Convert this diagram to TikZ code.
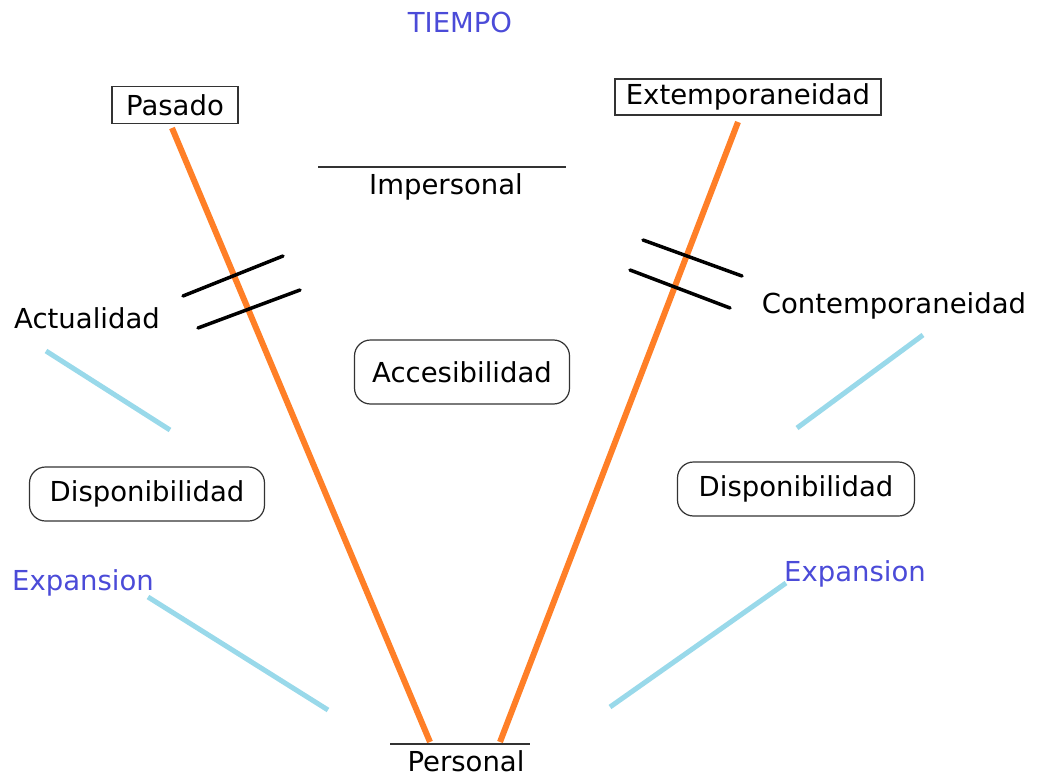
\documentclass[tikz,border=0pt]{standalone}
\usepackage{fontspec}
\setmainfont{DejaVu Sans}
\definecolor{lineorange}{HTML}{FF7F27}
\definecolor{lightblue}{HTML}{99D9EA}
\definecolor{labelblue}{HTML}{4B4BD8}
\begin{document}
\begin{tikzpicture}[x=1pt,y=-1pt,
  lbl/.style={font=\fontsize{27.5}{30}\selectfont, inner sep=0pt},
  bluelbl/.style={lbl, text=labelblue},
  sqbox/.style={lbl, draw=black!80, line width=1.5pt},
  rbox/.style={lbl, draw=black!80, line width=1.2pt, rounded corners=16pt},
  orangeline/.style={draw=lineorange, line width=6pt},
  blueline/.style={draw=lightblue, line width=5pt},
  tick/.style={draw=black, line width=3.5pt, line cap=round},
  rule/.style={draw=black!80, line width=1.2pt}]
\useasboundingbox (0,0) rectangle (1039,776);

\node[bluelbl] (tiempo) at (460,22) {TIEMPO};
\node[sqbox, minimum width=126pt, minimum height=37pt] (pasado) at (175,105) {Pasado};
\node[sqbox, minimum width=266pt, minimum height=36pt] (extemp) at (748,97) {Extemporaneidad};
\node[lbl] (impersonal) at (446,187) {Impersonal};
\node[lbl] (actualidad) at (87,318) {Actualidad};
\node[lbl] (contemp) at (894,306) {Contemporaneidad};
\node[rbox, minimum width=215pt, minimum height=64pt] (acces) at (462,372) {Accesibilidad};
\node[rbox, minimum width=235pt, minimum height=54pt] (displ) at (147,494) {Disponibilidad};
\node[rbox, minimum width=237pt, minimum height=54pt] (dispr) at (796,489) {Disponibilidad};
\node[bluelbl] (expl) at (83,583) {Expansion};
\node[bluelbl] (expr) at (855,574) {Expansion};
\node[lbl] (personal) at (466,761) {Personal};

% orange lines
\coordinate (ol1) at (172,128);
\coordinate (ol2) at (430,742);
\coordinate (or1) at (738,122);
\coordinate (or2) at (500,742);
\draw[orangeline] (ol1) -- (ol2);
\draw[orangeline] (or1) -- (or2);

% rules
\coordinate (ia) at (318,167);
\coordinate (ib) at (566,167);
\draw[rule] (ia) -- (ib);
\coordinate (pa) at (390,744);
\coordinate (pb) at (530,744);
\draw[rule] (pa) -- (pb);

% tick marks
\coordinate (t1a) at (183,296); \coordinate (t1b) at (283,256);
\coordinate (t2a) at (198,328); \coordinate (t2b) at (300,290);
\coordinate (t3a) at (643,240); \coordinate (t3b) at (742,276);
\coordinate (t4a) at (630,270); \coordinate (t4b) at (730,308);
\draw[tick] (t1a) -- (t1b);
\draw[tick] (t2a) -- (t2b);
\draw[tick] (t3a) -- (t3b);
\draw[tick] (t4a) -- (t4b);

% light blue lines
\coordinate (b1a) at (46,351); \coordinate (b1b) at (170,430);
\coordinate (b2a) at (923,335); \coordinate (b2b) at (797,428);
\coordinate (b3a) at (148,597); \coordinate (b3b) at (328,710);
\coordinate (b4a) at (786,583); \coordinate (b4b) at (610,707);
\draw[blueline] (b1a) -- (b1b);
\draw[blueline] (b2a) -- (b2b);
\draw[blueline] (b3a) -- (b3b);
\draw[blueline] (b4a) -- (b4b);
\end{tikzpicture}
\end{document}
